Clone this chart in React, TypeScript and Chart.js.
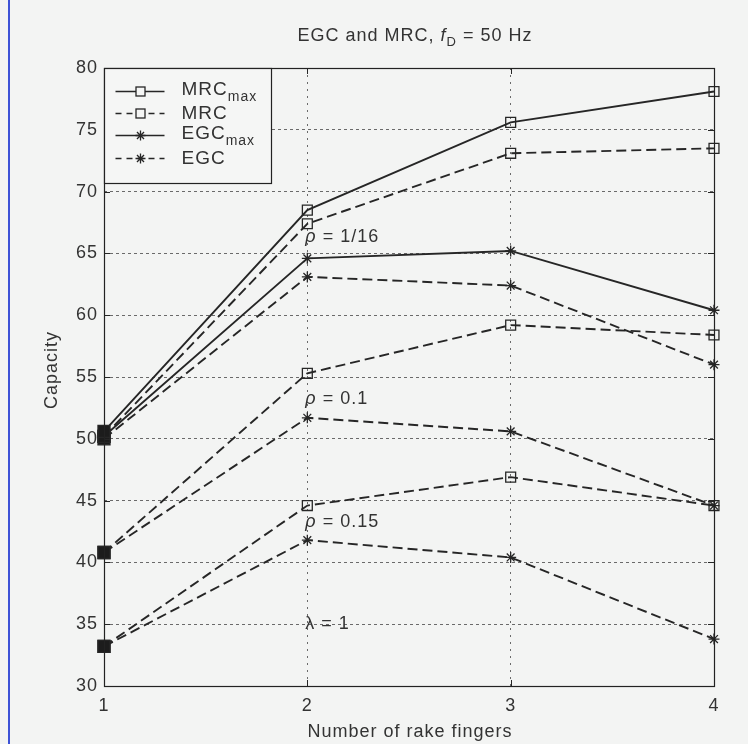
import React, { useEffect, useRef } from 'react';
import { Chart, registerables } from 'chart.js';
Chart.register(...registerables);

// ---- data ----
const fingers = [1, 2, 3, 4];
const yTickValues = [30, 35, 40, 45, 50, 55, 60, 65, 70, 75, 80];
const mrcMax = [50.6, 68.5, 75.6, 78.1];
const egcMax = [50.2, 64.6, 65.2, 60.4];
const mrcRho116 = [50.2, 67.4, 73.1, 73.5];
const egcRho116 = [50.0, 63.1, 62.4, 56.0];
const mrcRho01 = [40.8, 55.3, 59.2, 58.4];
const egcRho01 = [40.8, 51.7, 50.6, 44.6];
const mrcRho015 = [33.2, 44.6, 46.9, 44.6];
const egcRho015 = [33.2, 41.8, 40.4, 33.8];
const legendLabels = [
  { main: 'MRC', sub: 'max', dashed: false, marker: 'rect' },
  { main: 'MRC', sub: '', dashed: true, marker: 'rect' },
  { main: 'EGC', sub: 'max', dashed: false, marker: 'star' },
  { main: 'EGC', sub: '', dashed: true, marker: 'star' },
];
const annotations = [
  { text: [{ t: 'ρ', it: true }, { t: ' = 1/16' }], x: 2, y: 66.3 },
  { text: [{ t: 'ρ', it: true }, { t: ' = 0.1' }], x: 2, y: 53.2 },
  { text: [{ t: 'ρ', it: true }, { t: ' = 0.15' }], x: 2, y: 43.3 },
  { text: [{ t: 'λ', it: false }, { t: ' = 1' }], x: 2, y: 35.0 },
];

const LINE = '#262626';
const TXT = '#333333';
const FONT = '"Liberation Sans", Arial, Helvetica, sans-serif';
const DASH = [10, 5];

type Part = { t: string; it?: boolean; sub?: boolean };

function partFont(p: Part, size: number) {
  const s = p.sub ? Math.round(size * 0.72) : size;
  return `${p.it ? 'italic ' : ''}${s}px ${FONT}`;
}
function measureRich(ctx: CanvasRenderingContext2D, parts: Part[], size: number) {
  let w = 0;
  for (const p of parts) {
    ctx.font = partFont(p, size);
    w += ctx.measureText(p.t).width;
  }
  return w;
}
function drawRich(ctx: CanvasRenderingContext2D, parts: Part[], x: number, y: number, size: number) {
  let cx = x;
  ctx.textBaseline = 'middle';
  ctx.textAlign = 'left';
  for (const p of parts) {
    ctx.font = partFont(p, size);
    ctx.fillText(p.t, cx, p.sub ? y + size * 0.38 : y);
    cx += ctx.measureText(p.t).width;
  }
}

function drawMarker(ctx: CanvasRenderingContext2D, style: string, x: number, y: number) {
  ctx.save();
  ctx.setLineDash([]);
  ctx.strokeStyle = LINE;
  ctx.lineWidth = 1.3;
  if (style === 'rect') {
    ctx.fillStyle = '#f5f6f5';
    ctx.fillRect(x - 4.5, y - 4.5, 9, 9);
    ctx.strokeRect(x - 4.5, y - 4.5, 9, 9);
  } else {
    const r = 5;
    ctx.beginPath();
    for (let k = 0; k < 4; k++) {
      const a = (k * Math.PI) / 4;
      ctx.moveTo(x - r * Math.cos(a), y - r * Math.sin(a));
      ctx.lineTo(x + r * Math.cos(a), y + r * Math.sin(a));
    }
    ctx.stroke();
  }
  ctx.restore();
}

const decor = {
  id: 'decor',
  beforeDraw(chart: any) {
    const ctx = chart.ctx as any;
    ctx.save();
    ctx.fillStyle = '#f3f4f3';
    ctx.fillRect(0, 0, chart.width, chart.height);
    ctx.fillStyle = '#3d52d6';
    ctx.fillRect(8, 0, 2, chart.height);
    ctx.restore();
    ctx.letterSpacing = '1px';
  },
  afterDatasetsDraw(chart: any) {
    const ctx = chart.ctx as any;
    const { left, right, top, bottom } = chart.chartArea;
    const xs = chart.scales.x;
    const ys = chart.scales.y;
    ctx.save();
    ctx.letterSpacing = '1px';
    // inward tick marks
    ctx.strokeStyle = LINE;
    ctx.lineWidth = 1;
    ctx.setLineDash([]);
    ctx.beginPath();
    for (const v of yTickValues) {
      const py = Math.round(ys.getPixelForValue(v)) + 0.5;
      ctx.moveTo(left, py); ctx.lineTo(left + 6, py);
      ctx.moveTo(right, py); ctx.lineTo(right - 6, py);
    }
    for (const v of fingers) {
      const px = Math.round(xs.getPixelForValue(v)) + 0.5;
      ctx.moveTo(px, bottom); ctx.lineTo(px, bottom - 6);
      ctx.moveTo(px, top); ctx.lineTo(px, top + 6);
    }
    ctx.stroke();
    // plot border
    ctx.strokeStyle = '#222';
    ctx.lineWidth = 1.2;
    ctx.strokeRect(Math.round(left) + 0.5, Math.round(top) + 0.5, Math.round(right - left), Math.round(bottom - top));

    // legend box
    const lx = Math.round(left) + 0.5, ly = Math.round(top) + 0.5, lw = 167, lh = 115;
    ctx.fillStyle = '#f5f6f5';
    ctx.fillRect(lx, ly, lw, lh);
    ctx.strokeStyle = '#222';
    ctx.lineWidth = 1.2;
    ctx.strokeRect(lx, ly, lw, lh);
    const rowY = [91, 113, 135, 158];
    legendLabels.forEach((e, i) => {
      const y = ly + rowY[i] - 68;
      ctx.save();
      ctx.strokeStyle = LINE;
      ctx.lineWidth = 1.6;
      ctx.setLineDash(e.dashed ? [6, 5] : []);
      ctx.beginPath();
      ctx.moveTo(lx + 11, y);
      ctx.lineTo(lx + 60, y);
      ctx.stroke();
      ctx.restore();
      drawMarker(ctx, e.marker, lx + 36, y);
      ctx.fillStyle = TXT;
      const parts: Part[] = [{ t: e.main }];
      if (e.sub) parts.push({ t: e.sub, sub: true });
      drawRich(ctx, parts, lx + 77, y - (e.sub ? 2 : 0), 19);
    });

    // annotations
    ctx.fillStyle = TXT;
    for (const a of annotations) {
      const px = xs.getPixelForValue(a.x) - 2;
      const py = ys.getPixelForValue(a.y);
      drawRich(ctx, a.text as Part[], px, py, 18);
    }

    // title
    const title: Part[] = [{ t: 'EGC and MRC, ' }, { t: 'f', it: true }, { t: 'D', sub: true }, { t: ' = 50 Hz' }];
    const tw = measureRich(ctx, title, 18);
    drawRich(ctx, title, (left + right) / 2 + 6 - tw / 2, 36, 18);

    // axis titles
    ctx.font = `18px ${FONT}`;
    ctx.textAlign = 'center';
    ctx.textBaseline = 'middle';
    ctx.fillText('Number of rake fingers', (left + right) / 2 + 1, 732);
    ctx.save();
    ctx.translate(52, 370);
    ctx.rotate(-Math.PI / 2);
    ctx.fillText('Capacity', 0, 0);
    ctx.restore();
    ctx.restore();
  },
};

export default function App() {
  const ref = useRef<HTMLCanvasElement>(null);
  useEffect(() => {
    if (!ref.current) return;
    const mk = (label: string, vals: number[], dashed: boolean, marker: string) => ({
      label,
      data: vals.map((v, i) => ({ x: fingers[i], y: v })),
      borderColor: LINE,
      borderWidth: 1.9,
      borderDash: dashed ? DASH : [],
      clip: false,
      pointStyle: (c: any) => (c.dataIndex === 0 ? 'rect' : marker),
      pointRadius: (c: any) => (c.dataIndex === 0 ? 8.5 : marker === 'rect' ? 7 : 5.5),
      pointBackgroundColor: (c: any) => (c.dataIndex === 0 ? '#1c1c1c' : 'rgba(0,0,0,0)'),
      pointBorderColor: LINE,
      pointBorderWidth: 1.3,
      fill: false,
      tension: 0,
    });
    const chart = new Chart(ref.current, {
      type: 'line',
      data: {
        datasets: [
          mk('MRCmax', mrcMax, false, 'rect'),
          mk('MRC ρ=1/16', mrcRho116, true, 'rect'),
          mk('EGCmax', egcMax, false, 'star'),
          mk('EGC ρ=1/16', egcRho116, true, 'star'),
          mk('MRC ρ=0.1', mrcRho01, true, 'rect'),
          mk('EGC ρ=0.1', egcRho01, true, 'star'),
          mk('MRC ρ=0.15', mrcRho015, true, 'rect'),
          mk('EGC ρ=0.15', egcRho015, true, 'star'),
        ] as any,
      },
      options: {
        responsive: false,
        animation: false,
        devicePixelRatio: 1,
        layout: { padding: { top: 68, right: 34, left: 0, bottom: 0 } },
        plugins: { legend: { display: false }, tooltip: { enabled: false }, title: { display: false } },
        scales: {
          x: {
            type: 'linear',
            min: 1,
            max: 4,
            ticks: { stepSize: 1, color: TXT, font: { size: 18, family: FONT }, padding: 9 },
            grid: {
              drawTicks: false,
              lineWidth: 1,
              color: (c: any) => (c.tick && (c.tick.value === 1 || c.tick.value === 4) ? 'rgba(0,0,0,0)' : '#6a6a6a'),
            },
            border: { display: false, dash: [2, 5] },
            afterFit: (s: any) => { s.height = 58; },
          },
          y: {
            type: 'linear',
            min: 30,
            max: 80,
            ticks: { stepSize: 5, color: TXT, font: { size: 18, family: FONT }, padding: 6 },
            grid: {
              drawTicks: false,
              lineWidth: 1,
              color: (c: any) => (c.tick && (c.tick.value === 30 || c.tick.value === 80) ? 'rgba(0,0,0,0)' : '#6a6a6a'),
            },
            border: { display: false, dash: [3, 3] },
            afterFit: (s: any) => { s.width = 104; },
          },
        },
      } as any,
      plugins: [decor],
    });
    return () => chart.destroy();
  }, []);
  return (
    <div style={{ position: 'absolute', left: 0, top: 0, width: 748, height: 744 }}>
      <canvas ref={ref} width={748} height={744} style={{ width: 748, height: 744, display: 'block' }} />
    </div>
  );
}
